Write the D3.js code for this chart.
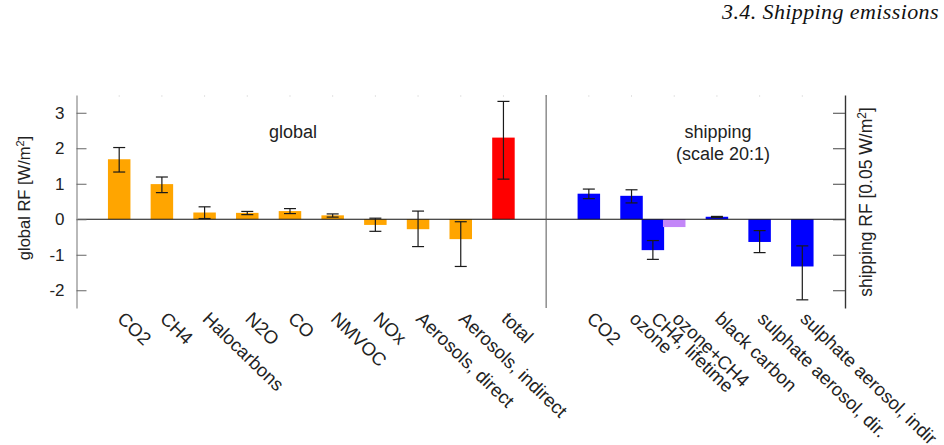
<!DOCTYPE html>
<html>
<head>
<meta charset="utf-8">
<script src="https://cdn.jsdelivr.net/npm/d3@7"></script>
<style>
  body { margin: 0; background: #fff; }
  text { font-family: "Liberation Sans", Arial, sans-serif; fill: #222; }
</style>
</head>
<body>
<div id="chart"></div>
<script>
// global forcing components (W/m2)
var globalCats = ["CO2", "CH4", "Halocarbons", "N2O", "CO", "NMVOC", "NOx",
                  "Aerosols, direct", "Aerosols, indirect", "total"];
var globalVals = [1.69, 0.99, 0.19, 0.18, 0.23, 0.11, -0.16, -0.28, -0.56, 2.30];
var globalLo   = [1.33, 0.75, 0.02, 0.13, 0.16, 0.06, -0.34, -0.77, -1.33, 1.13];
var globalHi   = [2.02, 1.19, 0.35, 0.22, 0.30, 0.15, 0.03, 0.23, -0.07, 3.32];

// shipping components (scale 20:1)
var shipCats = ["CO2", "ozone", "CH4, lifetime", "ozone+CH4", "black carbon",
                "sulphate aerosol, dir.", "sulphate aerosol, indir."];
var shipSlot = [11, 12, 12.5, 13, 14, 15, 16];
var shipVals = [0.72, 0.66, -0.87, -0.22, 0.07, -0.64, -1.33];
var shipLo   = [0.58, 0.46, -1.13, null, 0.05, -0.94, -2.27];
var shipHi   = [0.85, 0.83, -0.60, null, 0.08, -0.32, -0.75];

var yTicks = [-2, -1, 0, 1, 2, 3];

var svgWidth = 944;
var svgHeight = 445;

var svg = d3.select("#chart")
    .append("svg")
    .attr("width", svgWidth)
    .attr("height", svgHeight);

// header
svg.append("text")
    .attr("x", 939)
    .attr("y", 19)
    .attr("text-anchor", "end")
    .style("font-family", "'Liberation Serif', 'DejaVu Serif', serif")
    .style("font-style", "italic")
    .style("font-size", "22px")
    .style("letter-spacing", "0.4px")
    .style("fill", "#111")
    .text("3.4.  Shipping emissions");

// scales
var x = d3.scaleLinear().domain([-1, 17]).range([76.5, 845]);
var y = d3.scaleLinear().domain([-2.5, 3.5]).range([308, 95]);
var barW = 22.5;

// build rows
var rows = globalCats.map(function(c, i) {
    return {name: c, slot: i, v: globalVals[i], lo: globalLo[i], hi: globalHi[i],
            color: c === "total" ? "#ff0000" : "#ffa500"};
});
shipCats.forEach(function(c, i) {
    rows.push({name: c, slot: shipSlot[i], v: shipVals[i], lo: shipLo[i], hi: shipHi[i],
               color: c === "ozone+CH4" ? "#c386f8" : "#0000ff"});
});

// faint top ticks
svg.append("g").selectAll("line")
    .data(d3.range(0, 17))
    .enter()
    .append("line")
    .attr("x1", d => x(d)).attr("x2", d => x(d))
    .attr("y1", y(3.5)).attr("y2", y(3.5) + 2)
    .attr("stroke", "#e4e4e4");

// bars
svg.append("g").selectAll("rect")
    .data(rows)
    .enter()
    .append("rect")
    .attr("x", d => x(d.slot) - barW / 2)
    .attr("width", barW)
    .attr("y", d => y(Math.max(0, d.v)))
    .attr("height", d => Math.abs(y(d.v) - y(0)))
    .attr("fill", d => d.color);

// zero line
svg.append("line")
    .attr("x1", x(-1)).attr("x2", x(17))
    .attr("y1", y(0)).attr("y2", y(0))
    .attr("stroke", "#111")
    .attr("stroke-width", 1.2);

// separator
svg.append("line")
    .attr("x1", x(10)).attr("x2", x(10))
    .attr("y1", y(3.5)).attr("y2", y(-2.5))
    .attr("stroke", "#555")
    .attr("stroke-width", 1);

// error bars
var errRows = rows.filter(d => d.lo !== null);
var err = svg.append("g")
    .attr("stroke", "#1a1a1a")
    .attr("stroke-width", 1.2);
err.selectAll(".stem")
    .data(errRows)
    .enter()
    .append("line")
    .attr("x1", d => x(d.slot)).attr("x2", d => x(d.slot))
    .attr("y1", d => y(d.lo)).attr("y2", d => y(d.hi));
["lo", "hi"].forEach(function(k) {
    err.selectAll(".cap-" + k)
        .data(errRows)
        .enter()
        .append("line")
        .attr("x1", d => x(d.slot) - 6).attr("x2", d => x(d.slot) + 6)
        .attr("y1", d => y(d[k])).attr("y2", d => y(d[k]));
});

// left axis
var leftAxis = d3.axisLeft(y)
    .tickValues(yTicks)
    .tickSizeInner(-10)
    .tickSizeOuter(0)
    .tickPadding(12)
    .tickFormat(d3.format("d"));
var gl = svg.append("g")
    .attr("transform", `translate(${x(-1)},0)`)
    .call(leftAxis);
gl.select(".domain").attr("stroke", "#a8a8a8").attr("stroke-width", 1.6);
gl.selectAll(".tick line").attr("stroke", "#666");
gl.selectAll(".tick text")
    .style("font-size", "17px")
    .style("font-family", "'Liberation Sans', Arial, sans-serif")
    .attr("fill", "#222")
    .text(d => d < 0 ? "-" + Math.abs(d) : d);

// right axis
var rightAxis = d3.axisRight(y)
    .tickValues(yTicks)
    .tickSizeInner(-12)
    .tickSizeOuter(0)
    .tickFormat("");
var gr = svg.append("g")
    .attr("transform", `translate(${x(17)},0)`)
    .call(rightAxis);
gr.select(".domain").attr("stroke", "#333").attr("stroke-width", 1.4);
gr.selectAll(".tick line").attr("stroke", "#444");

// axis titles
var lt = svg.append("text")
    .attr("transform", "translate(30,198) rotate(-90)")
    .attr("text-anchor", "middle")
    .style("font-size", "16.5px");
lt.append("tspan").text("global RF [W/m");
lt.append("tspan").attr("dy", -6).style("font-size", "11px").text("2");
lt.append("tspan").attr("dy", 6).text("]");

var rt = svg.append("text")
    .attr("transform", "translate(872,202) rotate(-90)")
    .attr("text-anchor", "middle")
    .style("font-size", "17.5px");
rt.append("tspan").text("shipping RF [0.05 W/m");
rt.append("tspan").attr("dy", -6).style("font-size", "12px").text("2");
rt.append("tspan").attr("dy", 6).text("]");

// panel titles
svg.append("text")
    .attr("x", 293).attr("y", 138)
    .attr("text-anchor", "middle")
    .style("font-size", "18px")
    .text("global");
svg.append("text")
    .attr("x", 718).attr("y", 138)
    .attr("text-anchor", "middle")
    .style("font-size", "18px")
    .text("shipping");
svg.append("text")
    .attr("x", 723).attr("y", 160)
    .attr("text-anchor", "middle")
    .style("font-size", "18px")
    .text("(scale 20:1)");

// category labels
svg.append("g").selectAll("text")
    .data(rows)
    .enter()
    .append("text")
    .attr("transform", d => `translate(${x(d.slot) - 3},320) rotate(44)`)
    .style("font-size", "18.5px")
    .text(d => d.name);
</script>
</body>
</html>
